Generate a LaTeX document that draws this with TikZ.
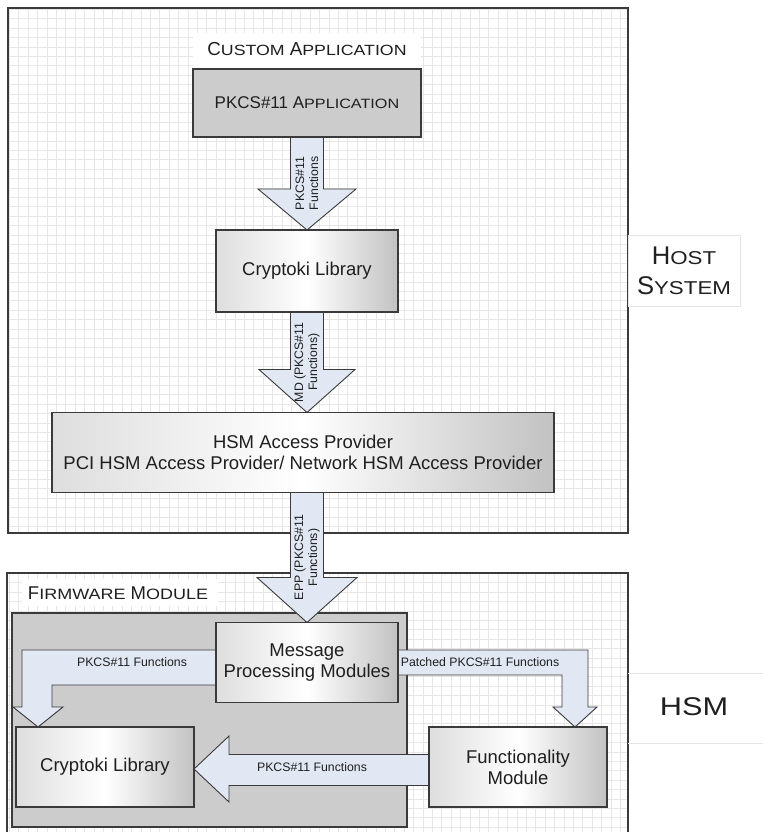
\documentclass[tikz,border=0pt]{standalone}
\usepackage{fontspec}
\setmainfont{Liberation Sans}
\usepackage{graphicx}
\usetikzlibrary{calc}
\definecolor{arrowfill}{HTML}{E1E8F4}
\definecolor{boxline}{HTML}{3A3A3A}
\definecolor{gridc}{HTML}{E6E6E6}
\definecolor{panelgrey}{HTML}{CCCCCC}
\newcommand\capL[2]{{\fontsize{#1}{#1}\selectfont #2}}
\newcommand\capS[2]{\scalebox{1.2}[1]{\fontsize{#1}{#1}\selectfont #2}}
\pgfdeclarelayer{bg}
\pgfdeclarelayer{arrowlayer}
\pgfsetlayers{bg,arrowlayer,main}
\begin{document}
\begin{tikzpicture}[x=1pt,y=-1pt,
  every node/.style={inner sep=0pt, outer sep=0pt, text=black!88},
  container/.style={draw=boxline, line width=1.4pt},
  gradbox/.style={draw=boxline, line width=1.2pt, left color=black!13, right color=black!24, middle color=white, align=center, font=\fontsize{18.5}{21}\selectfont},
  greybox/.style={draw=boxline, line width=1.2pt, fill=panelgrey},
  barrow/.style={draw=boxline, line width=0.9pt, fill=arrowfill, line join=miter},
  vlabel/.style={font=\fontsize{12.3}{14}\selectfont, align=center, rotate=90},
  hlabel/.style={font=\fontsize{12.3}{14}\selectfont},
  gridlines/.style={draw=gridc, line width=0.75pt},
  sidelabel/.style={draw=black!10, line width=0.8pt, fill=white, align=center},
]
\useasboundingbox (0,0) rectangle (763,832);

% ---------- main boxes ----------
\node[greybox, minimum width=228pt, minimum height=68pt] (app) at (307,103)
  {\capL{17pt}{PKCS\#11 A}\capS{13.5pt}{PPLICATION}};
\node[gradbox, minimum width=182pt, minimum height=82pt] (lib1) at (307,271) {Cryptoki Library};
\node[gradbox, minimum width=502pt, minimum height=80pt] (hap) at (303,452.5)
  {HSM Access Provider\\PCI HSM Access Provider/ Network HSM Access Provider};
\node[gradbox, minimum width=182pt, minimum height=80pt] (mpm) at (307,662.5) {Message\\Processing Modules};
\node[gradbox, minimum width=178pt, minimum height=80pt] (lib2) at (105,767) {Cryptoki Library};
\node[gradbox, minimum width=178pt, minimum height=80pt] (func) at (518,767) {Functionality\\Module};

% ---------- side labels ----------
\node[sidelabel, minimum width=112pt, minimum height=71pt, font=\fontsize{25}{30}\selectfont] (hostlbl) at (684,270.5)
  {\capL{25.6pt}{H}\capS{18.6pt}{OST}\\\capL{25.6pt}{S}\capS{18.6pt}{YSTEM}};
\draw[black!10, line width=0.8pt] (628,673) -- (763,673);
\draw[black!10, line width=0.8pt] (628,743) -- (763,743);
\node (hsmlbl) at (694,707) {\scalebox{1.2}[1]{\fontsize{25.6}{28}\selectfont HSM}};

% ---------- containers, grids, panel ----------
\begin{pgfonlayer}{bg}
  \draw[gridlines, step=9.4pt] (8,533) grid (628,8);
  \draw[container] (8,8) rectangle (628,533);
  \draw[gridlines, step=9.4pt] (7,838) grid (628,573);
  \draw[container] (7,573) rectangle (628,838);
  \fill[white] (193,33) rectangle (421,68);
  \fill[white] (22,579) rectangle (218,606);
  \draw[greybox] (12,613) rectangle (407,827);
\end{pgfonlayer}
\node[font=\fontsize{18}{20}\selectfont] (custlbl) at (307,49)
  {\capL{18.8pt}{C}\capS{14.8pt}{USTOM} \capL{18.8pt}{A}\capS{14.8pt}{PPLICATION}};
\node[font=\fontsize{18}{20}\selectfont] (fwlbl) at (118,593)
  {\capL{18.5pt}{F}\capS{15pt}{IRMWARE} \capL{18.5pt}{M}\capS{15pt}{ODULE}};

% ---------- block arrows ----------
\begin{pgfonlayer}{arrowlayer}
  \draw[barrow] let \p1=(app.south), \p2=(lib1.north) in
    (\x2-16.5pt,\y1) -- (\x2+16.5pt,\y1) -- (\x2+16.5pt,\y2+41pt) -- (\x2+49pt,\y2+41pt)
    -- (\x2,\y2) -- (\x2-49pt,\y2+41pt) -- (\x2-16.5pt,\y2+41pt) -- cycle;
  \draw[barrow] let \p1=(lib1.south), \p2=(hap.north) in
    (\x1-16.5pt,\y1) -- (\x1+16.5pt,\y1) -- (\x1+16.5pt,\y2+43pt) -- (\x1+48pt,\y2+43pt)
    -- (\x1,\y2) -- (\x1-48pt,\y2+43pt) -- (\x1-16.5pt,\y2+43pt) -- cycle;
  \draw[barrow] let \p1=(hap.south), \p2=(mpm.north) in
    (\x2-16.5pt,\y1) -- (\x2+16.5pt,\y1) -- (\x2+16.5pt,\y2+45pt) -- (\x2+50pt,\y2+45pt)
    -- (\x2,\y2) -- (\x2-50pt,\y2+45pt) -- (\x2-16.5pt,\y2+45pt) -- cycle;
  % left bent arrow
  \draw[barrow] ($(mpm.west)+(0,-12.5)$) -- (22,650) -- (22,707) -- (13,707)
    -- ($(lib2.north west)+(22,0)$) -- (63,707) -- (52,707) -- (52,685)
    -- ($(mpm.west)+(0,22.5)$) -- cycle;
  % right bent arrow
  \draw[barrow] ($(mpm.east)+(0,-12.5)$) -- (588,650) -- (588,707) -- (597,707)
    -- ($(func.north)+(57,0)$) -- (553,707) -- (562,707) -- (562,675)
    -- ($(mpm.east)+(0,12.5)$) -- cycle;
  % bottom arrow
  \draw[barrow] ($(func.west)+(0,-12.5)$) -- (229,754.5) -- (229,736)
    -- ($(lib2.east)+(0,2)$) -- (229,802) -- (229,785.5)
    -- ($(func.west)+(0,18.5)$) -- cycle;
\end{pgfonlayer}

% ---------- arrow labels ----------
\node[vlabel] (l1) at ($(app.south)!0.5!(lib1.north)$) {PKCS\#11\\Functions};
\node[vlabel] (l2) at ($(lib1.south)!0.5!(lib1.south|-hap.north)$) {MD (PKCS\#11\\Functions)};
\node[vlabel] (l3) at ($(mpm.north|-hap.south)!0.5!(mpm.north)$) {EPP (PKCS\#11\\Functions)};
\node[hlabel] (l4) at (132,662) {PKCS\#11 Functions};
\node[hlabel] (l5) at (480,662) {Patched PKCS\#11 Functions};
\node[hlabel] (l6) at (312,767) {PKCS\#11 Functions};
\end{tikzpicture}
\end{document}
